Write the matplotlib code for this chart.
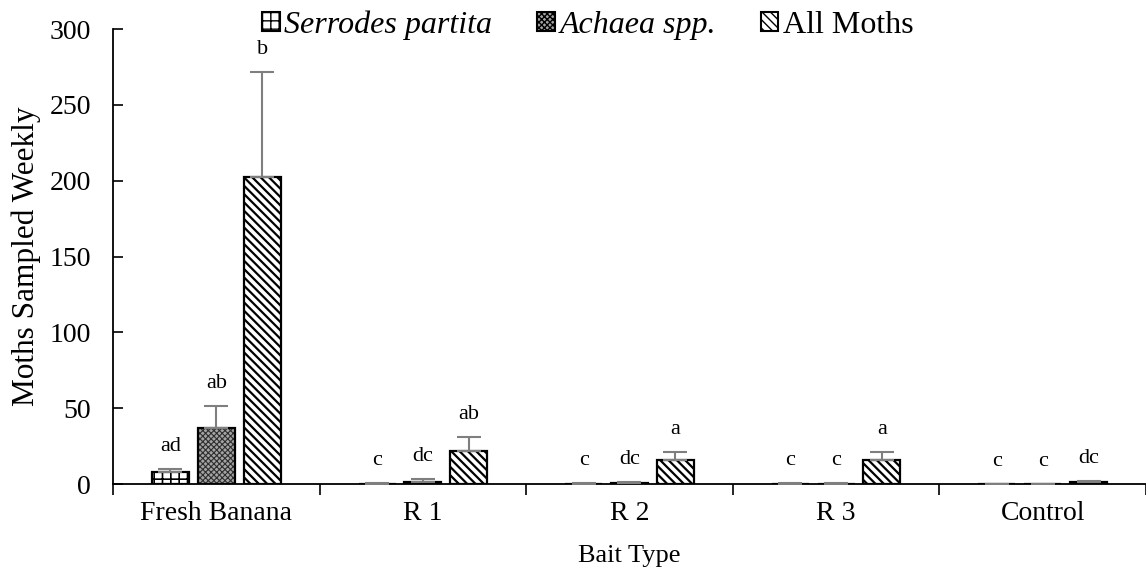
import numpy as np
import matplotlib
matplotlib.use("Agg")
import matplotlib.pyplot as plt
from matplotlib.patches import Patch

plt.rcParams['font.family'] = ['Liberation Serif', 'DejaVu Serif']

categories = ["Fresh Banana", "R 1", "R 2", "R 3", "Control"]
series_names = ["Serrodes partita", "Achaea spp.", "All Moths"]

serrodes = [7.9, 0.3, 0.2, 0.3, 0.1]
serrodes_err = [2.0, 0.3, 0.2, 0.3, 0.1]
achaea = [36.9, 1.5, 0.8, 0.3, 0.1]
achaea_err = [14.3, 1.5, 0.7, 0.3, 0.1]
all_moths = [202.2, 22.0, 15.6, 15.6, 1.6]
all_moths_err = [69.4, 9.0, 5.7, 5.7, 0.5]

serrodes_letters = ["ad", "c", "c", "c", "c"]
achaea_letters = ["ab", "dc", "dc", "c", "c"]
all_moths_letters = ["b", "ab", "a", "a", "dc"]

values = [serrodes, achaea, all_moths]
errors = [serrodes_err, achaea_err, all_moths_err]
letters = [serrodes_letters, achaea_letters, all_moths_letters]

styles = [
    dict(face="white", hatch_color="black", hatch="++", hlw=1.2),
    dict(face="#a4a4a4", hatch_color="#2e2e2e", hatch="xxxxxx", hlw=0.8),
    dict(face="white", hatch_color="black", hatch="\\\\\\\\", hlw=1.6),
]

fig = plt.figure(figsize=(11.46, 5.72), dpi=100)
ax = fig.add_axes([0.0986, 0.1538, 0.9014, 0.7955])

x = np.arange(len(categories)) + 0.5
width = 0.179
step = 0.222


def hatched_patch(st, **kw):
    with plt.rc_context({'hatch.linewidth': st["hlw"]}):
        p = Patch(facecolor=st["face"], edgecolor=st["hatch_color"], hatch=st["hatch"], **kw)
    if hasattr(p, "set_hatch_linewidth"):
        p.set_hatch_linewidth(st["hlw"])
    return p


for i, (vals, errs, labs, st) in enumerate(zip(values, errors, letters, styles)):
    pos = x + (i - 1) * step
    # hatched fill
    with plt.rc_context({'hatch.linewidth': st["hlw"]}):
        bars = ax.bar(pos, vals, width, color=st["face"], edgecolor=st["hatch_color"],
                      hatch=st["hatch"], linewidth=0, zorder=2)
    for b in bars:
        if hasattr(b, "set_hatch_linewidth"):
            b.set_hatch_linewidth(st["hlw"])
    # outline
    ax.bar(pos, vals, width, fill=False, edgecolor="black", linewidth=1.6, zorder=3)
    ax.errorbar(pos, vals, yerr=[np.zeros(len(vals)), errs], fmt="none",
                ecolor="#7f7f7f", elinewidth=1.5, capsize=8.5, capthick=1.5, zorder=4)
    for p, v, e, t in zip(pos, vals, errs, labs):
        ax.annotate(t, (p, v + e), xytext=(0, 13), textcoords="offset points",
                    ha="center", va="baseline", fontsize=16)

ax.set_xlim(0, len(categories))
ax.set_ylim(0, 300)
ax.set_yticks(np.arange(0, 301, 50))
ax.set_xticks(np.arange(0, len(categories) + 1))
ax.set_xticklabels([])
ax.set_xticks(x, minor=True)
ax.set_xticklabels(categories, minor=True, fontsize=20)
ax.tick_params(axis="x", which="minor", length=0, pad=12)
ax.tick_params(axis="x", which="major", direction="out", length=8, width=1.2)
ax.tick_params(axis="y", direction="in", length=7, width=1.2, labelsize=20, pad=16)

for side in ("top", "right"):
    ax.spines[side].set_visible(False)
for side in ("left", "bottom"):
    ax.spines[side].set_linewidth(1.3)

ax.set_ylabel("Moths Sampled Weekly", fontsize=22.5, labelpad=6)
ax.set_xlabel("Bait Type", fontsize=19, labelpad=14)

handles = [hatched_patch(st, linewidth=1.5) for st in styles]
leg = fig.legend(handles, series_names, loc="center", bbox_to_anchor=(0.513, 0.956),
                 ncol=3, frameon=False, fontsize=23, handlelength=0.55, handleheight=0.55,
                 handletextpad=0.15, columnspacing=1.4, borderaxespad=0)
for txt in leg.get_texts()[:2]:
    txt.set_fontstyle("italic")
for h in leg.legend_handles:
    h.set_edgecolor("black")

fig.savefig("out.png", dpi=100)
